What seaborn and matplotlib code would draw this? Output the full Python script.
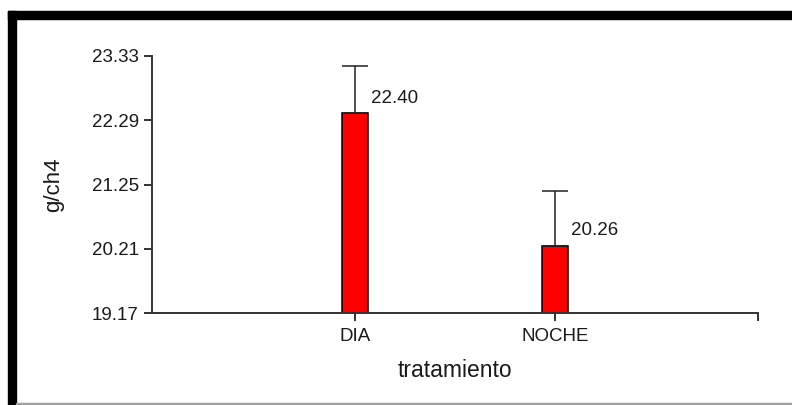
import matplotlib
matplotlib.use("Agg")
import matplotlib.pyplot as plt
from matplotlib.patches import Rectangle
import seaborn as sns
import pandas as pd

# Treatment means of g/ch4 with the upper error (standard error) per treatment
tratamientos = ["DIA", "NOCHE"]
medias = [22.40, 20.26]
errores = [0.77, 0.89]
y_ticks = [19.17, 20.21, 21.25, 22.29, 23.33]

df = pd.DataFrame({"tratamiento": tratamientos, "g/ch4": medias})

sns.set_theme(style="white")
plt.rcParams["font.family"] = ["Liberation Sans", "DejaVu Sans"]

W, H = 792, 405
fig = plt.figure(figsize=(W / 100, H / 100), dpi=100)
fig.patch.set_facecolor("white")

# plot area in pixel coordinates
x0, x1, y_top, y_bot = 152, 758, 56, 313
ax = fig.add_axes([x0 / W, (H - y_bot) / H, (x1 - x0) / W, (y_bot - y_top) / H])

sns.barplot(data=df, x="tratamiento", y="g/ch4", color="#ff0000",
            width=0.13, saturation=1, edgecolor="black", linewidth=1.1,
            errorbar=None, ax=ax)

pos = list(range(len(tratamientos)))
ax.errorbar(pos, medias, yerr=[[0] * len(errores), errores], fmt="none",
            ecolor="#222222", elinewidth=1.1, capsize=9.7, capthick=1.1,
            zorder=1)

for p, m in zip(pos, medias):
    ax.annotate(f"{m:.2f}", xy=(p, m), xytext=(11.5, 10.8),
                textcoords="offset points", ha="left", va="center",
                fontsize=13.5, color="#1a1a1a")

ax.set_ylim(y_ticks[0], y_ticks[-1])
ax.set_xlim(-1.015, 2.015)
ax.set_yticks(y_ticks)
ax.set_yticklabels([f"{v:.2f}" for v in y_ticks])
ax.set_xticks(pos + [2.015])
ax.set_xticklabels(tratamientos + [""])

for s in ["top", "right"]:
    ax.spines[s].set_visible(False)
for s in ["left", "bottom"]:
    ax.spines[s].set_color("#333333")
    ax.spines[s].set_linewidth(1.4)

ax.tick_params(axis="both", which="major", direction="out", length=6,
               width=1.4, color="#333333", labelsize=13.5,
               labelcolor="#1a1a1a", pad=3.5)
ax.tick_params(axis="x", bottom=True, pad=5)
ax.tick_params(axis="y", left=True)

ax.set_xlabel("tratamiento", fontsize=16.5, color="#1a1a1a", labelpad=10)
ax.set_ylabel("g/ch4", fontsize=16, color="#1a1a1a", labelpad=20)

# black frame on the left and top edges, thin grey rule at the bottom
fig.patches.append(Rectangle((8 / W, 0), 8 / W, (H - 11) / H,
                             transform=fig.transFigure, color="black", zorder=10))
fig.patches.append(Rectangle((8 / W, (H - 19) / H), (W - 8) / W, 8 / H,
                             transform=fig.transFigure, color="black", zorder=10))
fig.patches.append(Rectangle((16 / W, 1 / H), (W - 16) / W, 1.5 / H,
                             transform=fig.transFigure, color="#a0a0a0", zorder=10))

fig.savefig("out.png", dpi=100, facecolor="white")
